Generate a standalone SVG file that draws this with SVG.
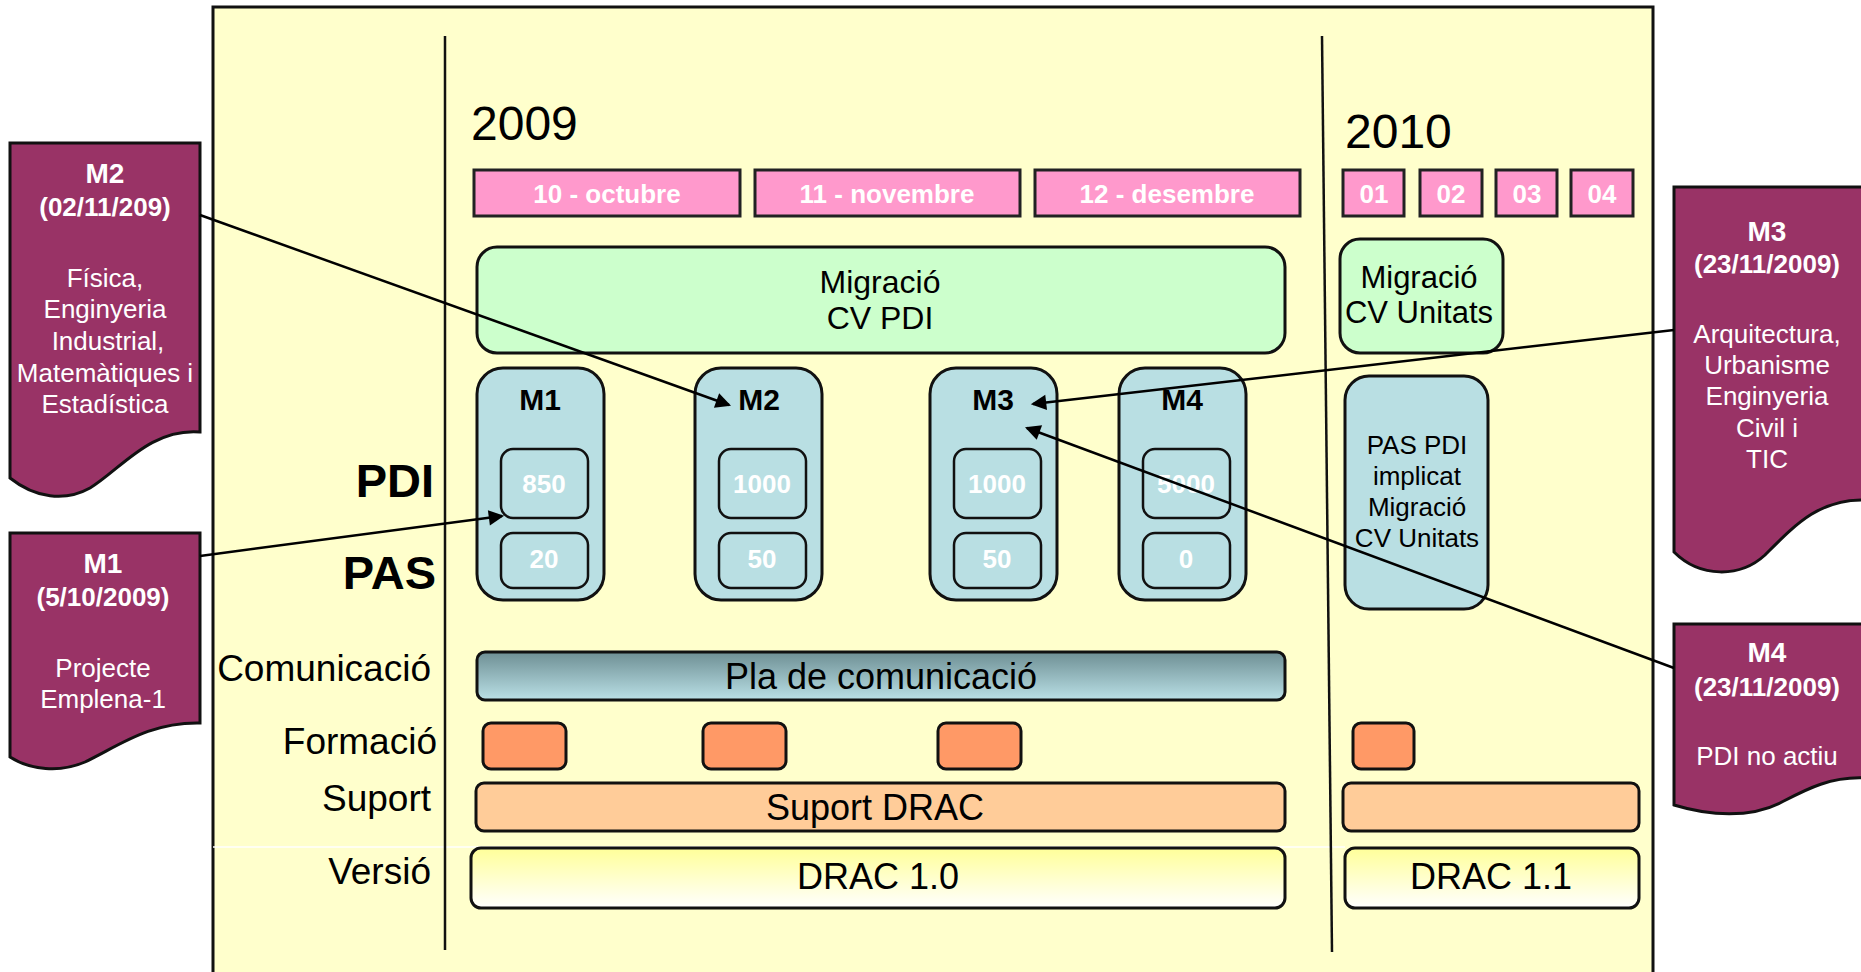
<svg xmlns="http://www.w3.org/2000/svg" width="1861" height="972" viewBox="0 0 1861 972">
<defs>
<style>
text{font-family:"Liberation Sans",Arial,sans-serif}
.box{stroke:#111;stroke-width:3}
.mon{fill:#FF99CC;stroke:#222;stroke-width:3}
.mt{fill:#fff;font-weight:bold;font-size:26px;text-anchor:middle}
.grn{fill:#CCFFCC;stroke:#111;stroke-width:3}
.blu{fill:#B9DFE3;stroke:#111;stroke-width:3}
.inb{fill:#B9DFE3;stroke:#111;stroke-width:2.5}
.ml{font-weight:bold;font-size:30px;text-anchor:middle;fill:#000}
.num{font-weight:bold;font-size:26px;fill:#fff;text-anchor:middle}
.row{font-size:37px;text-anchor:end;fill:#000}
.big{font-weight:bold;font-size:47px;text-anchor:end;fill:#000}
.or{fill:#FF9966;stroke:#111;stroke-width:3}
.lo{fill:#FFCC99;stroke:#111;stroke-width:3}
.bt{font-size:36px;text-anchor:middle;fill:#000}
.doc{fill:#993366;stroke:#111;stroke-width:3}
.ch{fill:#fff;font-weight:bold;text-anchor:middle}
.cb{fill:#fff;font-size:26px;text-anchor:middle}
.con{stroke:#000;stroke-width:2.5;fill:none;marker-end:url(#ah)}
</style>
<marker id="ah" viewBox="0 0 10 10" refX="9" refY="5" markerWidth="8" markerHeight="7" markerUnits="userSpaceOnUse" orient="auto" style="overflow:visible">
<path d="M0,0 L10,5 L0,10 Z" fill="#000" transform="scale(2.2) translate(-4.5,-2.7)"/>
</marker>
<linearGradient id="gCom" x1="0" y1="0" x2="0" y2="1">
<stop offset="0" stop-color="#6E8F94"/>
<stop offset="1" stop-color="#BAE0E6"/>
</linearGradient>
<linearGradient id="gVer" x1="0" y1="0" x2="0" y2="1">
<stop offset="0" stop-color="#FFFF99"/>
<stop offset="1" stop-color="#FFFFFF"/>
</linearGradient>
</defs>
<rect width="1861" height="972" fill="#fff"/>
<g id="frame">
<rect x="213" y="7" width="1440" height="980" fill="#FFFFCC" stroke="#111" stroke-width="3"/>
<line x1="213" y1="847" x2="1345" y2="847" stroke="#fff" stroke-width="1.5"/>
<line x1="445" y1="36" x2="445" y2="950" stroke="#111" stroke-width="2.5"/>
<line x1="1322" y1="36" x2="1332" y2="952" stroke="#111" stroke-width="2.5"/>
<text x="471" y="140" font-size="48" fill="#000">2009</text>
<text x="1345" y="148" font-size="48" fill="#000">2010</text>
</g>
<g id="months">
<rect class="mon" x="474" y="170" width="266" height="46"/><text class="mt" x="607" y="203">10 - octubre</text>
<rect class="mon" x="755" y="170" width="265" height="46"/><text class="mt" x="887" y="203">11 - novembre</text>
<rect class="mon" x="1035" y="170" width="265" height="46"/><text class="mt" x="1167" y="203">12 - desembre</text>
<rect class="mon" x="1343" y="170" width="61" height="46"/><text class="mt" x="1374" y="203">01</text>
<rect class="mon" x="1420" y="170" width="62" height="46"/><text class="mt" x="1451" y="203">02</text>
<rect class="mon" x="1496" y="170" width="61" height="46"/><text class="mt" x="1527" y="203">03</text>
<rect class="mon" x="1571" y="170" width="62" height="46"/><text class="mt" x="1602" y="203">04</text>
</g>
<g id="migracio-pdi">
<rect class="grn" x="477" y="247" width="808" height="106" rx="20"/>
<text class="bt" x="880" y="293" style="font-size:32px">Migració</text>
<text class="bt" x="880" y="329" style="font-size:32px">CV PDI</text>
</g>
<g id="migracio-unitats">
<rect class="grn" x="1340" y="239" width="163" height="114" rx="20"/>
<text class="bt" x="1419" y="288" style="font-size:31px">Migració</text>
<text class="bt" x="1419" y="323" style="font-size:31px">CV Unitats</text>
</g>
<g id="rowlabels">
<text class="big" x="434" y="497">PDI</text>
<text class="big" x="436" y="589">PAS</text>
<text class="row" x="431" y="681">Comunicació</text>
<text class="row" x="437" y="754">Formació</text>
<text class="row" x="431" y="811">Suport</text>
<text class="row" x="431" y="884">Versió</text>
</g>
<g id="m1">
<rect class="blu" x="477" y="368" width="127" height="232" rx="26"/>
<text class="ml" x="540" y="410">M1</text>
<rect class="inb" x="501" y="449" width="87" height="69" rx="12"/><text class="num" x="544" y="493">850</text>
<rect class="inb" x="501" y="533" width="87" height="55" rx="12"/><text class="num" x="544" y="568">20</text>
</g>
<g id="m2">
<rect class="blu" x="695" y="368" width="127" height="232" rx="26"/>
<text class="ml" x="759" y="410">M2</text>
<rect class="inb" x="719" y="449" width="87" height="69" rx="12"/><text class="num" x="762" y="493">1000</text>
<rect class="inb" x="719" y="533" width="87" height="55" rx="12"/><text class="num" x="762" y="568">50</text>
</g>
<g id="m3">
<rect class="blu" x="930" y="368" width="127" height="232" rx="26"/>
<text class="ml" x="993" y="410">M3</text>
<rect class="inb" x="954" y="449" width="87" height="69" rx="12"/><text class="num" x="997" y="493">1000</text>
<rect class="inb" x="954" y="533" width="87" height="55" rx="12"/><text class="num" x="997" y="568">50</text>
</g>
<g id="m4">
<rect class="blu" x="1119" y="368" width="127" height="232" rx="26"/>
<text class="ml" x="1182" y="410">M4</text>
<rect class="inb" x="1143" y="449" width="87" height="69" rx="12"/><text class="num" x="1186" y="493">5000</text>
<rect class="inb" x="1143" y="533" width="87" height="55" rx="12"/><text class="num" x="1186" y="568">0</text>
</g>
<g id="pas-pdi-unitats">
<rect class="blu" x="1345" y="376" width="143" height="233" rx="24"/>
<text class="bt" x="1417" y="454" style="font-size:26px">PAS PDI</text>
<text class="bt" x="1417" y="485" style="font-size:26px">implicat</text>
<text class="bt" x="1417" y="516" style="font-size:26px">Migració</text>
<text class="bt" x="1417" y="547" style="font-size:26px">CV Unitats</text>
</g>
<g id="comunicacio">
<rect x="477" y="652" width="808" height="48" rx="8" fill="url(#gCom)" stroke="#111" stroke-width="3"/>
<text class="bt" x="881" y="689">Pla de comunicació</text>
</g>
<g id="formacio">
<rect class="or" x="483" y="723" width="83" height="46" rx="8"/>
<rect class="or" x="703" y="723" width="83" height="46" rx="8"/>
<rect class="or" x="938" y="723" width="83" height="46" rx="8"/>
<rect class="or" x="1353" y="723" width="61" height="46" rx="8"/>
</g>
<g id="suport">
<rect class="lo" x="476" y="783" width="809" height="48" rx="8"/>
<text class="bt" x="875" y="820">Suport DRAC</text>
<rect class="lo" x="1343" y="783" width="296" height="48" rx="8"/>
</g>
<g id="versio">
<rect x="471" y="848" width="814" height="60" rx="10" fill="url(#gVer)" stroke="#111" stroke-width="3"/>
<text class="bt" x="878" y="889">DRAC 1.0</text>
<rect x="1345" y="848" width="294" height="60" rx="10" fill="url(#gVer)" stroke="#111" stroke-width="3"/>
<text class="bt" x="1491" y="889">DRAC 1.1</text>
</g>
<g id="callout-m2">
<path class="doc" d="M10,143 H200 V432 C150,428 120,470 90,488 C65,502 35,498 10,478 Z"/>
<text class="ch" x="105" y="183" font-size="28">M2</text>
<text class="ch" x="105" y="216" font-size="26">(02/11/209)</text>
<text class="cb" x="105" y="287">Física,</text>
<text class="cb" x="105" y="318">Enginyeria</text>
<text class="cb" x="108" y="350">Industrial,</text>
<text class="cb" x="105" y="382">Matemàtiques i</text>
<text class="cb" x="105" y="413">Estadística</text>
</g>
<g id="callout-m1">
<path class="doc" d="M10,533 H200 V723 C150,722 120,745 85,762 C60,773 30,770 10,757 Z"/>
<text class="ch" x="103" y="573" font-size="28">M1</text>
<text class="ch" x="103" y="606" font-size="26">(5/10/2009)</text>
<text class="cb" x="103" y="677">Projecte</text>
<text class="cb" x="103" y="708">Emplena-1</text>
</g>
<g id="callout-m3">
<path class="doc" d="M1674,187 H1866 V500 C1820,498 1795,525 1765,555 C1740,578 1700,578 1674,552 Z"/>
<text class="ch" x="1767" y="241" font-size="28">M3</text>
<text class="ch" x="1767" y="273" font-size="26">(23/11/2009)</text>
<text class="cb" x="1767" y="343">Arquitectura,</text>
<text class="cb" x="1767" y="374">Urbanisme</text>
<text class="cb" x="1767" y="405">Enginyeria</text>
<text class="cb" x="1767" y="437">Civil i</text>
<text class="cb" x="1767" y="468">TIC</text>
</g>
<g id="callout-m4">
<path class="doc" d="M1674,624 H1866 V778 C1830,776 1805,790 1780,803 C1750,818 1710,816 1674,805 Z"/>
<text class="ch" x="1767" y="662" font-size="28">M4</text>
<text class="ch" x="1767" y="696" font-size="26">(23/11/2009)</text>
<text class="cb" x="1767" y="765">PDI no actiu</text>
</g>
<g id="connectors">
<line class="con" x1="200" y1="215" x2="729" y2="405"/>
<line class="con" x1="200" y1="556" x2="502" y2="516"/>
<line class="con" x1="1674" y1="330" x2="1033" y2="404"/>
<line class="con" x1="1674" y1="668" x2="1027" y2="428"/>
</g>
</svg>
